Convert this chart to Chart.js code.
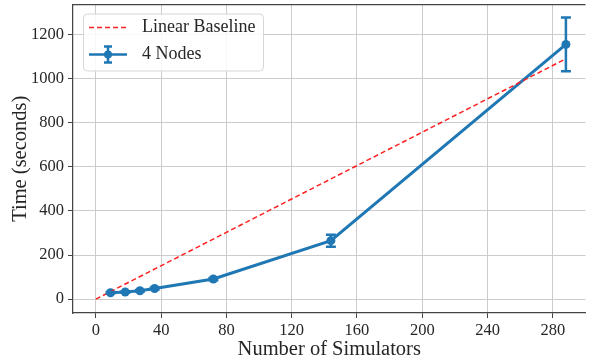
<!DOCTYPE html>
<html>
<head>
<meta charset="utf-8">
<script src="https://cdn.jsdelivr.net/npm/chart.js@4/dist/chart.umd.min.js"></script>
<style>
  html, body { margin: 0; padding: 0; background: #fff; }
  #wrap { width: 590px; height: 362px; }
</style>
</head>
<body>
<div id="wrap"><canvas id="grafico"></canvas></div>
<script>
// dados
const simuladores = [9, 18, 27, 36, 72, 144, 288];
const tempos = [29, 32, 38, 48, 91, 265, 1155];
const erros = [3, 3, 3, 4, 5, 27, 122];
const baseX = [0, 288];
const baseY = [0, 1090];
const xTicks = [0, 40, 80, 120, 160, 200, 240, 280];
const yTicks = [0, 200, 400, 600, 800, 1000, 1200];

const fonte = '"Liberation Serif", "DejaVu Serif", serif';
const azul = '#1f77b4';
const vermelho = '#ff2020';
const eixo = '#444444';

// barras de erro
const barrasErro = {
  id: 'barrasErro',
  afterDatasetsDraw(chart) {
    const ctx = chart.ctx;
    const meta = chart.getDatasetMeta(1);
    const ys = chart.scales.y;
    ctx.save();
    ctx.strokeStyle = azul;
    ctx.lineWidth = 2.5;
    meta.data.forEach(function (p, i) {
      const top = ys.getPixelForValue(tempos[i] + erros[i]);
      const bot = ys.getPixelForValue(tempos[i] - erros[i]);
      ctx.beginPath();
      ctx.moveTo(p.x, top); ctx.lineTo(p.x, bot);
      ctx.moveTo(p.x - 5, top); ctx.lineTo(p.x + 5, top);
      ctx.moveTo(p.x - 5, bot); ctx.lineTo(p.x + 5, bot);
      ctx.stroke();
    });
    ctx.restore();
  },
  afterDraw(chart) {
    const ctx = chart.ctx;
    const a = chart.chartArea;
    ctx.save();
    // linha de cima
    ctx.strokeStyle = eixo;
    ctx.lineWidth = 1.25;
    ctx.beginPath();
    ctx.moveTo(a.left, a.top); ctx.lineTo(a.right, a.top);
    ctx.stroke();

    // legenda
    const lx = a.left + 10, ly = a.top + 9, lw = 180, lh = 57;
    ctx.fillStyle = 'rgba(255,255,255,0.85)';
    ctx.strokeStyle = '#d6d6d6';
    ctx.lineWidth = 1;
    ctx.beginPath();
    ctx.roundRect(lx + 0.5, ly + 0.5, lw, lh, 4);
    ctx.fill(); ctx.stroke();

    const y1 = ly + 14, y2 = ly + 41;
    const h0 = lx + 6, h1 = lx + 44;
    ctx.strokeStyle = vermelho;
    ctx.lineWidth = 1.5;
    ctx.setLineDash([5, 3]);
    ctx.beginPath(); ctx.moveTo(h0, y1); ctx.lineTo(h1, y1); ctx.stroke();
    ctx.setLineDash([]);

    const hm = (h0 + h1) / 2;
    ctx.strokeStyle = azul;
    ctx.lineWidth = 2.5;
    ctx.beginPath();
    ctx.moveTo(h0, y2); ctx.lineTo(h1, y2);
    ctx.moveTo(hm, y2 - 8); ctx.lineTo(hm, y2 + 8);
    ctx.moveTo(hm - 4, y2 - 8); ctx.lineTo(hm + 4, y2 - 8);
    ctx.moveTo(hm - 4, y2 + 8); ctx.lineTo(hm + 4, y2 + 8);
    ctx.stroke();
    ctx.fillStyle = azul;
    ctx.beginPath(); ctx.arc(hm, y2, 4, 0, Math.PI * 2); ctx.fill();

    ctx.fillStyle = '#262626';
    ctx.font = '18px ' + fonte;
    ctx.textBaseline = 'middle';
    ctx.fillText('Linear Baseline', lx + 59, y1);
    ctx.fillText('4 Nodes', lx + 59, y2);
    ctx.restore();
  }
};

new Chart(document.getElementById('grafico'), {
  type: 'line',
  data: {
    datasets: [
      {
        label: 'Linear Baseline',
        data: baseX.map((x, i) => ({x: x, y: baseY[i]})),
        borderColor: vermelho,
        borderWidth: 1.5,
        borderDash: [5, 3],
        pointRadius: 0,
        fill: false
      },
      {
        label: '4 Nodes',
        data: simuladores.map((x, i) => ({x: x, y: tempos[i]})),
        borderColor: azul,
        backgroundColor: azul,
        borderWidth: 3,
        pointRadius: 4.5,
        pointBackgroundColor: azul,
        pointBorderWidth: 0,
        fill: false
      }
    ]
  },
  options: {
    responsive: true,
    maintainAspectRatio: false,
    animation: false,
    layout: {padding: {top: 4, right: 0, left: 0, bottom: 0}},
    plugins: {legend: {display: false}, tooltip: {enabled: false}},
    scales: {
      x: {
        type: 'linear',
        min: -14,
        max: 300,
        afterBuildTicks: (s) => { s.ticks = xTicks.map(v => ({value: v})); },
        afterFit: (s) => { s.height = 49; s.paddingLeft = 0; s.paddingRight = 0; },
        ticks: {font: {family: fonte, size: 16.5}, color: '#262626', padding: 3, maxRotation: 0,
                callback: (v) => String(v)},
        grid: {color: '#cccccc', lineWidth: 1, tickColor: eixo, tickLength: 5},
        border: {display: true, color: eixo, width: 1.25},
        title: {display: true, text: 'Number of Simulators', font: {family: fonte, size: 20.5}, color: '#262626', padding: {top: 0, bottom: 0}}
      },
      y: {
        type: 'linear',
        min: -63,
        max: 1336,
        afterBuildTicks: (s) => { s.ticks = yTicks.map(v => ({value: v})); },
        afterFit: (s) => { s.width = 73; s.paddingTop = 0; s.paddingBottom = 0; },
        ticks: {font: {family: fonte, size: 16.5}, color: '#262626', padding: 4,
                callback: (v) => String(v)},
        grid: {color: '#cccccc', lineWidth: 1, tickColor: eixo, tickLength: 5},
        border: {display: true, color: eixo, width: 1.25},
        title: {display: true, text: 'Time (seconds)', font: {family: fonte, size: 20.5}, color: '#262626', padding: {top: 8, bottom: 4}}
      }
    }
  },
  plugins: [barrasErro]
});
</script>
</body>
</html>
